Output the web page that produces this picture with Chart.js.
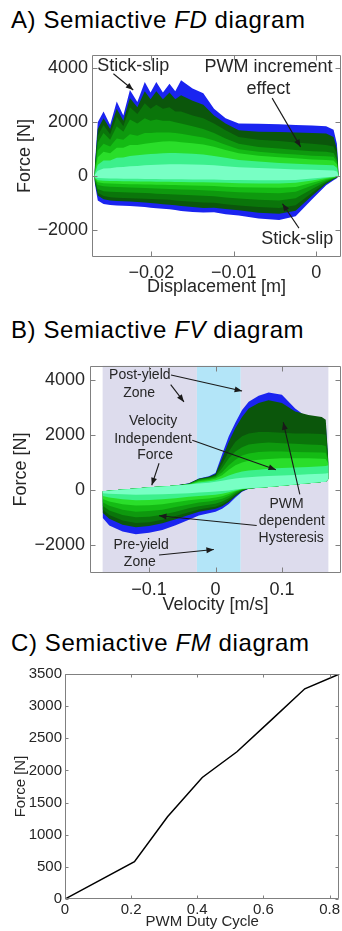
<!DOCTYPE html>
<html><head><meta charset="utf-8">
<script src="https://cdn.jsdelivr.net/npm/chart.js@4"></script>
<style>
html,body{margin:0;padding:0;background:#fff;width:342px;height:931px;overflow:hidden}
.t{position:absolute;left:11px;font-family:"Liberation Sans",Arial,sans-serif;font-size:24px;line-height:24px;color:#000;white-space:nowrap;letter-spacing:0.6px}
.c{position:absolute;left:0;width:342px}
canvas{display:block}
</style></head><body>
<div class="t" style="top:8px">A) Semiactive <i>FD</i> diagram</div>
<div class="c" style="top:40px;height:260px"><canvas id="ca" width="342" height="260"></canvas></div>
<div class="t" style="top:318px">B) Semiactive <i>FV</i> diagram</div>
<div class="c" style="top:350px;height:270px"><canvas id="cb" width="342" height="270"></canvas></div>
<div class="t" style="top:631px">C) Semiactive <i>FM</i> diagram</div>
<div class="c" style="top:660px;height:271px"><canvas id="cc" width="342" height="271"></canvas></div>
<script>
// ---------------- DATA ----------------
// A) Force-Displacement cloud: envelopes per PWM level (outer = highest PWM)
const dispA = [-0.0269,-0.0265,-0.0258,-0.0250,-0.0242,-0.0234,-0.0226,-0.0217,-0.0208,-0.0201,-0.0194,-0.0186,-0.0178,-0.0171,-0.0164,-0.0150,-0.0137,-0.0124,-0.0110,-0.0094,-0.0070,-0.0045,-0.0025,-0.0005,0.0012,0.0021,0.0025,0.0027];
const fdBlueUp = [200,2000,2400,1900,2770,2250,3190,2750,3490,3100,3490,3100,3430,3150,3560,3250,3070,2500,2150,1950,1940,1920,1900,1880,1850,1720,1200,200];
const fdBlueLo = [-200,-900,-1030,-1070,-1090,-1100,-1110,-1130,-1150,-1170,-1190,-1210,-1230,-1260,-1290,-1330,-1350,-1340,-1410,-1460,-1570,-1630,-1490,-860,-340,-150,-80,0];
const fdG1Up = [150,1750,2150,1750,2500,2050,2900,2550,3150,2850,3150,2850,3100,2850,3000,2800,2650,2250,1950,1700,1650,1640,1620,1600,1580,1450,1000,150];
const fdG1Lo = [-150,-720,-860,-900,-920,-930,-940,-960,-980,-1000,-1020,-1040,-1060,-1080,-1110,-1150,-1180,-1170,-1220,-1270,-1360,-1400,-1280,-730,-280,-120,-60,0];
const fdG2Up = [120,1500,1900,1550,2200,1850,2550,2300,2700,2500,2650,2500,2550,2400,2400,2250,2150,1950,1700,1450,1350,1300,1250,1200,1150,1100,800,100];
const fdG2Lo = [-120,-620,-740,-780,-800,-810,-820,-830,-840,-850,-860,-870,-880,-900,-920,-950,-980,-990,-1040,-1090,-1150,-1180,-1080,-620,-250,-110,-50,0];
const fdG3Up = [100,1250,1600,1350,1850,1650,2100,1950,2150,2050,2100,2050,2050,2000,1950,1850,1750,1600,1400,1200,1080,1020,970,920,900,860,620,80];
const fdG3Lo = [-100,-480,-560,-580,-590,-600,-610,-620,-630,-640,-650,-660,-670,-680,-690,-710,-730,-750,-790,-830,-880,-900,-820,-480,-200,-90,-40,0];
const fdG4Up = [80,950,1200,1100,1400,1350,1550,1500,1600,1600,1620,1620,1620,1600,1570,1500,1430,1320,1160,1000,900,840,800,760,740,720,520,60];
const fdG4Lo = [-80,-330,-380,-390,-400,-410,-420,-430,-440,-450,-460,-470,-480,-490,-500,-510,-520,-540,-570,-600,-620,-640,-580,-350,-150,-70,-30,0];
const fdG5Up = [60,700,900,850,1050,1050,1150,1150,1200,1230,1260,1280,1290,1280,1260,1220,1170,1090,970,850,760,700,660,620,600,580,440,50];
const fdG5Lo = [-60,-230,-260,-270,-280,-290,-300,-300,-310,-310,-320,-320,-330,-330,-340,-350,-360,-370,-390,-410,-420,-430,-400,-250,-110,-50,-20,0];
const fdG6Up = [50,420,580,580,680,690,750,770,800,820,830,850,860,860,850,830,800,750,680,600,540,490,460,430,410,400,310,40];
const fdG6Lo = [-50,-150,-170,-180,-180,-190,-190,-200,-200,-200,-210,-210,-210,-220,-220,-230,-230,-240,-250,-260,-270,-270,-250,-160,-70,-30,-10,0];
const fdG7Up = [30,200,280,290,330,340,370,380,400,410,420,430,440,440,440,430,420,400,370,330,300,270,250,240,220,210,170,30];
const fdG7Lo = [-30,-70,-80,-90,-90,-100,-100,-100,-110,-110,-110,-120,-120,-120,-120,-130,-130,-130,-140,-140,-150,-150,-140,-90,-40,-20,-5,0];

// B) Force-Velocity cloud
const velB = [-0.170,-0.160,-0.140,-0.120,-0.100,-0.080,-0.060,-0.040,-0.025,-0.010,0.000,0.010,0.020,0.030,0.040,0.050,0.065,0.080,0.100,0.120,0.140,0.160,0.166,0.170];
const fvBlueUp = [-40,-20,20,60,100,130,170,250,420,500,620,1300,1950,2450,2900,3200,3420,3530,3450,2950,2600,2500,2400,1000];
const fvBlueLo = [-1000,-1280,-1500,-1600,-1540,-1440,-1270,-1070,-920,-840,-780,-670,-500,-270,-60,50,90,110,160,200,250,290,300,400];
const fvG1Up = [-40,-20,20,60,100,130,170,240,410,480,580,1150,1750,2250,2650,2950,3150,3250,3150,2850,2720,2650,2550,1050];
const fvG1Lo = [-820,-1040,-1250,-1340,-1300,-1200,-1050,-900,-780,-720,-670,-580,-430,-220,-40,55,90,110,160,200,250,290,300,400];
const fvG2Up = [-40,-20,20,60,100,130,170,230,400,460,540,950,1400,1750,1950,2050,2100,2100,2080,2050,2050,2030,2000,1050];
const fvG2Lo = [-700,-900,-1100,-1190,-1160,-1070,-940,-800,-700,-640,-600,-510,-370,-180,-20,60,90,110,160,200,250,290,300,400];
const fvG3Up = [-40,-20,20,60,100,130,170,220,380,440,500,800,1150,1400,1550,1650,1700,1720,1700,1680,1650,1630,1600,1000];
const fvG3Lo = [-570,-740,-900,-980,-960,-890,-780,-660,-580,-530,-490,-410,-290,-120,0,60,90,110,160,200,250,290,300,400];
const fvG4Up = [-40,-20,20,60,100,130,170,210,350,410,470,650,900,1100,1250,1330,1380,1400,1400,1380,1370,1360,1350,1000];
const fvG4Lo = [-440,-570,-710,-780,-760,-710,-610,-520,-450,-410,-370,-310,-210,-70,20,60,90,110,160,200,250,290,300,400];
const fvG5Up = [-40,-20,20,60,100,130,170,200,320,370,420,540,740,900,1000,1060,1100,1130,1150,1150,1150,1140,1130,950];
const fvG5Lo = [-320,-410,-510,-560,-550,-510,-440,-370,-330,-300,-270,-220,-140,-40,30,60,90,110,160,200,250,290,300,400];
const fvG6Up = [-40,-20,20,60,100,130,170,200,280,320,360,430,530,610,670,710,740,770,800,820,840,860,870,900];
const fvG6Lo = [-210,-270,-330,-370,-360,-330,-290,-240,-210,-190,-170,-130,-80,-10,40,65,90,110,160,200,250,290,300,400];
const fvG7Up = [-40,-20,20,60,100,130,170,200,240,270,300,340,380,420,450,470,490,510,530,550,570,590,600,620];
const fvG7Lo = [-110,-130,-150,-170,-160,-150,-130,-110,-90,-70,-50,-30,-10,20,50,70,90,110,160,200,250,290,300,400];
const zoneEdgesB = [-0.17, -0.028, 0.038, 0.17];

// C) Force vs PWM duty cycle
const pwmDuty = [0, 0.21, 0.31, 0.415, 0.52, 0.625, 0.725, 0.83];
const forceC = [0, 580, 1280, 1890, 2290, 2790, 3270, 3500];

// tick labels
const ticksAx = [-0.02, -0.01, 0];
const ticksAy = [-2000, 0, 2000, 4000];
const ticksBx = [-0.1, 0, 0.1];
const ticksBy = [-2000, 0, 2000, 4000];
const ticksCx = [0, 0.2, 0.4, 0.6, 0.8];
const ticksCy = [0, 500, 1000, 1500, 2000, 2500, 3000, 3500];

// ---------------- STYLE / BUILD ----------------
const FONT = '"Liberation Sans", Arial, sans-serif';
const TXT = '#262626';
const layerColors = ['#1a24f0','#0b560b','#0a750a','#0e990e','#14bb14','#2ade2a','#3cf08c','#78ffc4'];

function cloud(xs, layers){
  const ds = [];
  layers.forEach(([up, lo], i) => {
    const c = layerColors[i];
    ds.unshift({data: xs.map((x,k)=>({x, y: lo[k]})), borderWidth:0, pointRadius:0, fill:false, backgroundColor:c, borderColor:c});
    ds.unshift({data: xs.map((x,k)=>({x, y: up[k]})), borderWidth:0, pointRadius:0, fill:'+1', backgroundColor:c, borderColor:c});
  });
  return ds;
}
const fmt = v => (v < 0 ? '\u2212' + String(Math.abs(v)) : String(v));

function axis(o){
  return {
    type:'linear', min:o.min, max:o.max,
    afterBuildTicks: s => { s.ticks = o.ticks.map(v => ({value:v})); },
    afterFit: s => { if (o.isY) s.width = o.size; else s.height = o.size; },
    grid:{display:false, drawTicks:false}, border:{display:false},
    ticks:{callback: fmt, color:TXT, font:{family:FONT, size:o.fs}, padding:o.lp, maxRotation:0, autoSkip:false},
    title:{display:true, text:o.title, color:TXT, font:{family:FONT, size:o.fs}, padding:{top:o.tp, bottom:o.bp}}
  };
}

function arrow(ctx, x1, y1, x2, y2, h){
  ctx.beginPath(); ctx.moveTo(x1,y1); ctx.lineTo(x2,y2); ctx.stroke();
  const a = Math.atan2(y2-y1, x2-x1);
  ctx.beginPath(); ctx.moveTo(x2,y2);
  ctx.lineTo(x2 - h*Math.cos(a-0.38), y2 - h*Math.sin(a-0.38));
  ctx.lineTo(x2 - h*Math.cos(a+0.38), y2 - h*Math.sin(a+0.38));
  ctx.closePath(); ctx.fill();
}

const frame = {
  id:'frame',
  beforeDatasetsDraw(chart, args, o){
    const {ctx, chartArea:a, scales:{x}} = chart;
    if (o.bands){
      ctx.save();
      for (let i = 0; i < o.bands.length - 1; i++){
        const l = x.getPixelForValue(o.bands[i]), r = x.getPixelForValue(o.bands[i+1]);
        ctx.fillStyle = o.bandColors[i];
        ctx.fillRect(l, a.top, r - l, a.bottom - a.top);
      }
      ctx.restore();
    }
  },
  afterDatasetsDraw(chart, args, o){
    const {ctx, chartArea:a, scales:{x, y}} = chart;
    ctx.save();
    ctx.strokeStyle = '#808080'; ctx.lineWidth = 1;
    const L = Math.round(a.left)+0.5, R = Math.round(a.right)-0.5, T = Math.round(a.top)+0.5, B = Math.round(a.bottom)-0.5;
    ctx.beginPath(); ctx.rect(L, T, R-L, B-T); ctx.stroke();
    const tl = o.tick;
    ctx.beginPath();
    x.ticks.forEach(t => { const p = Math.round(x.getPixelForValue(t.value))+0.5; ctx.moveTo(p,B); ctx.lineTo(p,B-tl); ctx.moveTo(p,T); ctx.lineTo(p,T+tl); });
    y.ticks.forEach(t => { const p = Math.round(y.getPixelForValue(t.value))+0.5; ctx.moveTo(L,p); ctx.lineTo(L+tl,p); ctx.moveTo(R,p); ctx.lineTo(R-tl,p); });
    ctx.stroke();
    if (o.texts){
      ctx.fillStyle = '#262626'; ctx.strokeStyle = '#1a1a1a'; ctx.lineWidth = 1.1;
      ctx.font = o.fs + 'px ' + FONT; ctx.textAlign = 'center'; ctx.textBaseline = 'middle';
      o.texts.forEach(t => ctx.fillText(t.t, x.getPixelForValue(t.x), y.getPixelForValue(t.y)));
      ctx.fillStyle = '#1a1a1a';
      o.arrows.forEach(r => arrow(ctx, x.getPixelForValue(r[0]), y.getPixelForValue(r[1]), x.getPixelForValue(r[2]), y.getPixelForValue(r[3]), 8));
    }
    ctx.restore();
  }
};

const base = {responsive:false, animation:false, events:[], plugins:{legend:{display:false}, tooltip:{enabled:false}}};

// ---- A ----
new Chart(document.getElementById('ca'), {
  type:'line',
  data:{datasets: cloud(dispA, [[fdBlueUp,fdBlueLo],[fdG1Up,fdG1Lo],[fdG2Up,fdG2Lo],[fdG3Up,fdG3Lo],[fdG4Up,fdG4Lo],[fdG5Up,fdG5Lo],[fdG6Up,fdG6Lo],[fdG7Up,fdG7Lo]])},
  options:{...base,
    layout:{padding:{top:8, right:1, bottom:0, left:0}},
    scales:{
      x: axis({min:-0.0272, max:0.003, ticks:ticksAx, fs:18, lp:5, title:'Displacement [m]', tp:0, bp:2, size:43}),
      y: axis({min:-3000, max:4500, ticks:ticksAy, fs:18, lp:4, title:'Force [N]', tp:14, bp:0, size:92, isY:true})
    },
    plugins:{...base.plugins, frame:{tick:5, fs:18,
      texts:[{t:'Stick-slip',x:-0.0222,y:4080},{t:'PWM increment',x:-0.0058,y:4050},{t:'effect',x:-0.0058,y:3230},{t:'Stick-slip',x:-0.0023,y:-2351}],
      arrows:[[-0.0246,3797,-0.0222,3193],[-0.00535,2893,-0.0019,1085],[-0.0021,-1931,-0.0041,-1027]]}}
  },
  plugins:[frame]
});

// ---- B ----
new Chart(document.getElementById('cb'), {
  type:'line',
  data:{datasets: cloud(velB, [[fvBlueUp,fvBlueLo],[fvG1Up,fvG1Lo],[fvG2Up,fvG2Lo],[fvG3Up,fvG3Lo],[fvG4Up,fvG4Lo],[fvG5Up,fvG5Lo],[fvG6Up,fvG6Lo],[fvG7Up,fvG7Lo]])},
  options:{...base,
    layout:{padding:{top:12, right:1, bottom:0, left:0}},
    scales:{
      x: axis({min:-0.189, max:0.189, ticks:ticksBx, fs:18, lp:6, title:'Velocity [m/s]', tp:0, bp:4, size:47}),
      y: axis({min:-3000, max:4500, ticks:ticksBy, fs:18, lp:5, title:'Force [N]', tp:10, bp:0, size:90, isY:true})
    },
    plugins:{...base.plugins, frame:{tick:5, fs:14,
      bands: zoneEdgesB, bandColors:['#dddced','#b3e5f8','#dddced'],
      texts:[{t:'Post-yield',x:-0.114,y:4177},{t:'Zone',x:-0.115,y:3525},
             {t:'Velocity',x:-0.094,y:2482},{t:'Independent',x:-0.094,y:1863},{t:'Force',x:-0.091,y:1271},
             {t:'PWM',x:0.107,y:-509},{t:'dependent',x:0.115,y:-1140},{t:'Hysteresis',x:0.114,y:-1756},
             {t:'Pre-yield',x:-0.112,y:-1994},{t:'Zone',x:-0.114,y:-2589}],
      arrows:[[-0.067,4167,0.040,3586],[-0.0675,3821,-0.0475,3194],[-0.035,1806,0.091,737],[-0.085,972,-0.096,178],
              [0.127,-153,0.102,2457],[0.062,-1282,-0.085,-926],[-0.085,-2350,-0.0025,-2147]]}}
  },
  plugins:[frame]
});

// ---- C ----
new Chart(document.getElementById('cc'), {
  type:'line',
  data:{datasets:[{data: pwmDuty.map((x,i)=>({x, y: forceC[i]})), borderColor:'#000', borderWidth:1.5, pointRadius:0, fill:false, tension:0}]},
  options:{...base,
    layout:{padding:{top:14, right:0, bottom:0, left:0}},
    scales:{
      x: axis({min:0, max:0.83, ticks:ticksCx, fs:15, lp:2, title:'PWM Duty Cycle', tp:0, bp:0, size:32}),
      y: axis({min:0, max:3500, ticks:ticksCy, fs:15, lp:3, title:'Force [N]', tp:12, bp:0, size:65, isY:true})
    },
    plugins:{...base.plugins, frame:{tick:3}}
  },
  plugins:[frame]
});
</script>
</body></html>
